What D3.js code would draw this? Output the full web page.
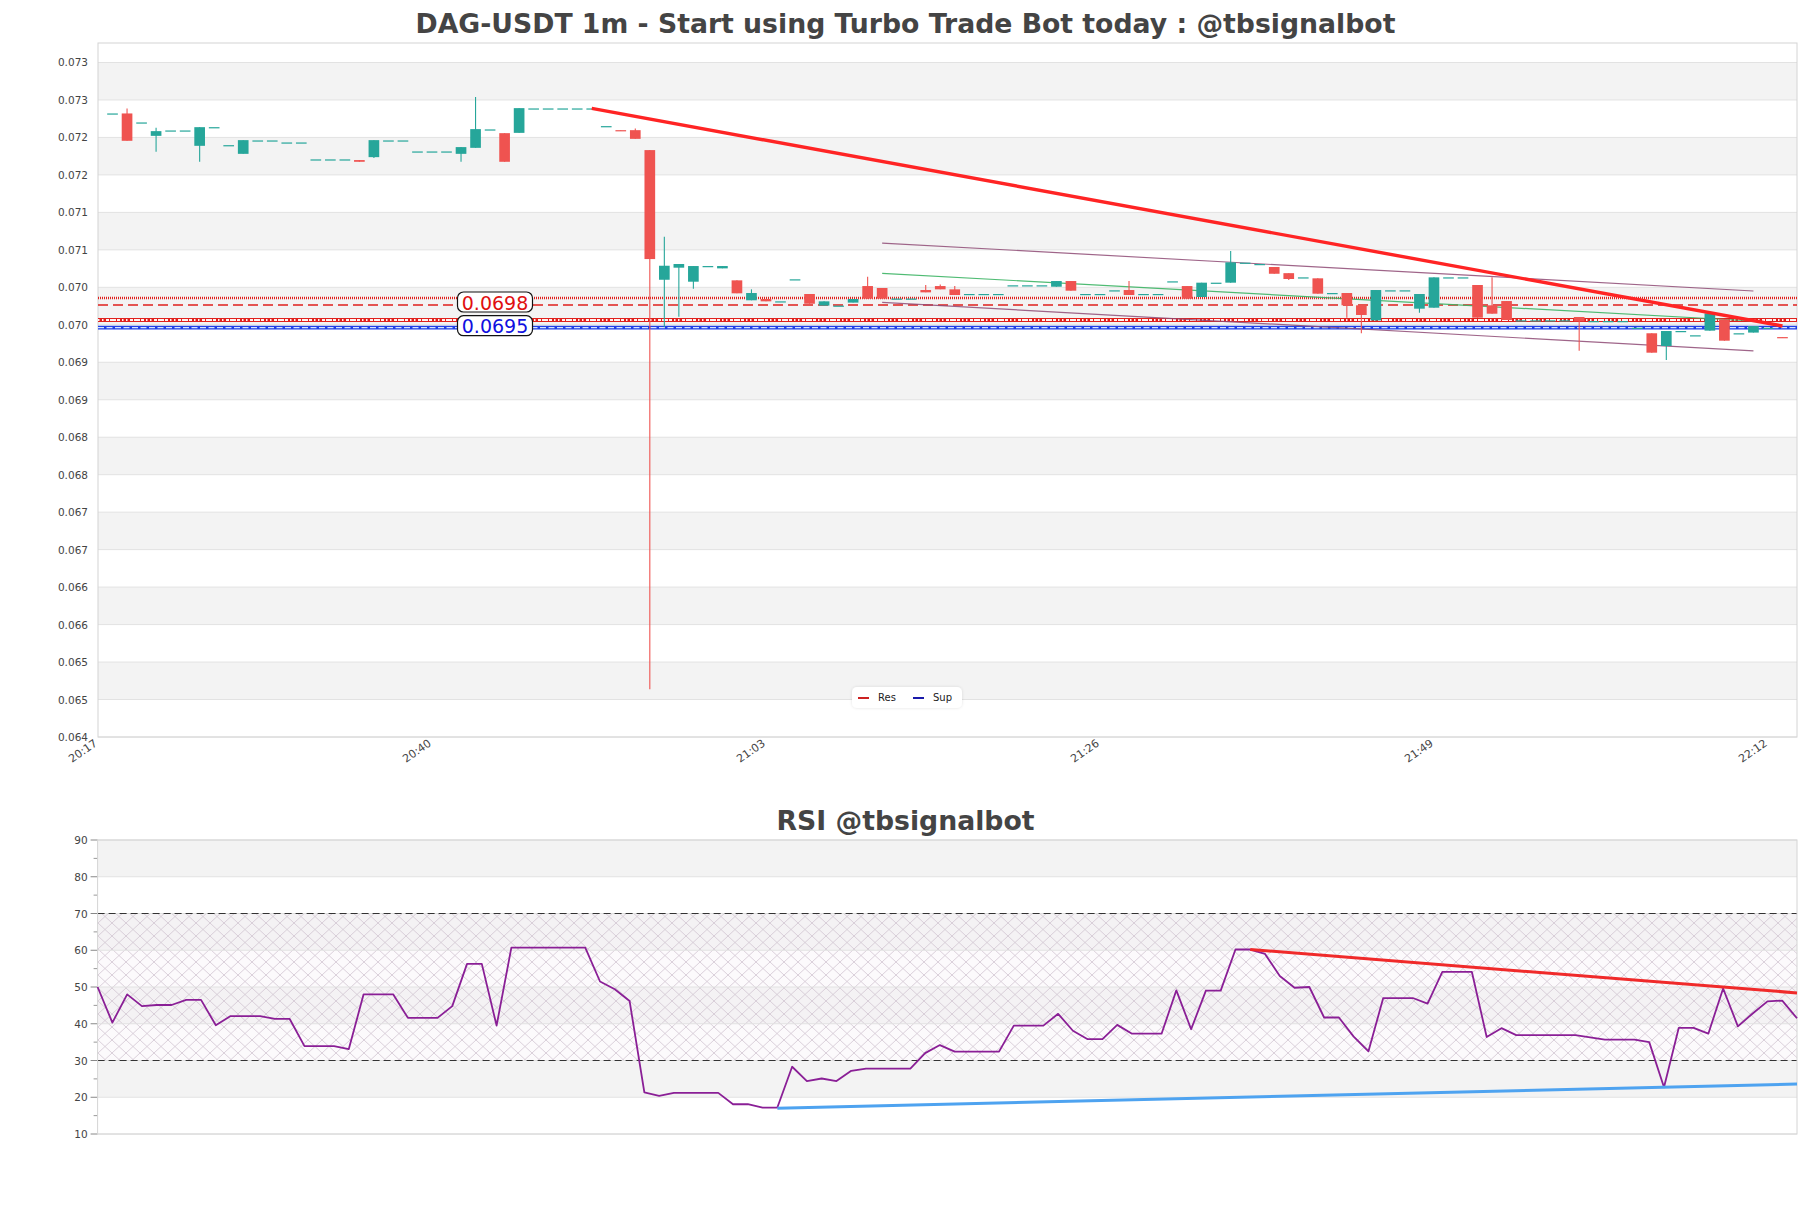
<!DOCTYPE html>
<html><head><meta charset="utf-8">
<script src="https://cdn.jsdelivr.net/npm/d3@7"></script>
<style>body{margin:0;background:#fff;} svg{display:block;font-family:"DejaVu Sans",sans-serif;}</style>
</head><body><svg id="c" width="1811" height="1208"></svg>
<script>
// ---------- DATA ----------
const titleMain = "DAG-USDT 1m - Start using Turbo Trade Bot today : @tbsignalbot";
const titleRsi = "RSI @tbsignalbot";
const xTickIdx = [0, 23, 46, 69, 92, 115];
const xTickLabels = ["20:17", "20:40", "21:03", "21:26", "21:49", "22:12"];
const yTicks = [0.064,0.0645,0.065,0.0655,0.066,0.0665,0.067,0.0675,0.068,0.0685,0.069,0.0695,0.070,0.0705,0.071,0.0715,0.072,0.0725,0.073];
const yTickLabels = ["0.064","0.065","0.065","0.066","0.066","0.067","0.067","0.068","0.068","0.069","0.069","0.070","0.070","0.071","0.071","0.072","0.072","0.073","0.073"];
// candles: minute index 1..116 (20:18 .. 22:13)
const candleOpen = [0.07232,0.07232,0.0722,0.072021,0.072093,0.072093,0.071888,0.072137,0.071897,0.071781,
0.07196,0.07196,0.071933,0.071933,0.071707,0.071707,0.071707,0.071698,0.071737,0.07196,
0.07196,0.071813,0.071813,0.071813,0.071781,0.071861,0.072107,0.072057,0.072061,0.072387,
0.072387,0.072387,0.072387,0.072387,0.072151,0.072097,0.072097,0.071831,0.070101,0.070262,
0.070075,0.070284,0.070253,0.070093,0.069827,0.069844,0.069813,0.070107,0.069911,0.069756,
0.069756,0.069796,0.070017,0.069991,0.06985,0.06985,0.069964,0.070017,0.069973,0.069911,
0.069911,0.069911,0.070027,0.070027,0.070027,0.070008,0.070084,0.069911,0.069911,0.06996,
0.069964,0.069911,0.069911,0.07008,0.070017,0.069871,0.070062,0.070062,0.070329,0.070311,
0.070271,0.070189,0.070133,0.07012,0.069924,0.069924,0.06976,0.069559,0.06996,0.06996,
0.069715,0.069728,0.070133,0.070133,0.070031,0.06976,0.069817,0.06956,0.06956,0.06956,
0.06956,0.069604,0.06955,0.06955,0.06955,0.06946,0.069387,0.069217,0.069417,0.06936,
0.069422,0.069573,0.069387,0.069396,0.06946,0.069336];
const candleHigh = [0.07232,0.072387,0.0722,0.072128,0.072093,0.072093,0.072137,0.072137,0.071897,0.071964,
0.07196,0.07196,0.071933,0.071933,0.071707,0.071707,0.071707,0.071698,0.071964,0.07196,
0.07196,0.071813,0.071813,0.071813,0.071871,0.072541,0.072107,0.072057,0.072391,0.072387,
0.072387,0.072387,0.072387,0.072387,0.072151,0.072097,0.07212,0.071831,0.070675,0.070311,
0.070284,0.070284,0.070284,0.070093,0.069973,0.069844,0.069813,0.070107,0.069911,0.069813,
0.069756,0.069844,0.070141,0.069991,0.06985,0.06985,0.070031,0.070039,0.070017,0.069911,
0.069911,0.069911,0.070027,0.070027,0.070027,0.070084,0.070084,0.069911,0.069911,0.06996,
0.070084,0.069911,0.069911,0.07008,0.070017,0.070062,0.070062,0.070484,0.070329,0.070311,
0.070271,0.070189,0.070133,0.07012,0.069924,0.069924,0.06976,0.069964,0.06996,0.06996,
0.069911,0.070133,0.070133,0.070133,0.070031,0.070133,0.069817,0.06956,0.06956,0.06956,
0.06956,0.069604,0.06955,0.06955,0.06955,0.06946,0.069387,0.069417,0.069417,0.06936,
0.069653,0.069573,0.069387,0.069484,0.06946,0.069336];
const candleLow = [0.07232,0.071955,0.0722,0.071808,0.072093,0.072093,0.071675,0.072137,0.071897,0.071781,
0.07196,0.07196,0.071933,0.071933,0.071707,0.071707,0.071707,0.071675,0.071724,0.07196,
0.07196,0.071813,0.071813,0.071813,0.071675,0.071861,0.072107,0.071675,0.072061,0.072387,
0.072387,0.072387,0.072387,0.072387,0.072151,0.07209,0.071981,0.064636,0.069467,0.069608,
0.069982,0.070284,0.070253,0.06992,0.069827,0.069813,0.069813,0.070107,0.069781,0.069756,
0.069756,0.069796,0.069849,0.069849,0.06985,0.06985,0.069933,0.069973,0.069897,0.069911,
0.069911,0.069911,0.070027,0.070027,0.070027,0.070008,0.069955,0.069911,0.069911,0.06996,
0.069897,0.069911,0.069911,0.07008,0.069848,0.069871,0.070062,0.070062,0.070329,0.070311,
0.070181,0.070098,0.070133,0.069915,0.069924,0.069595,0.069387,0.069559,0.06996,0.06996,
0.069661,0.069728,0.070133,0.070133,0.069595,0.069648,0.069564,0.06956,0.06956,0.06956,
0.06956,0.069155,0.06955,0.06955,0.06955,0.06946,0.069128,0.069031,0.069417,0.06936,
0.069422,0.069288,0.069387,0.069396,0.06946,0.06933];
const candleClose = [0.07232,0.071955,0.0722,0.072084,0.072093,0.072093,0.072137,0.072137,0.071897,0.071964,
0.07196,0.07196,0.071933,0.071933,0.071707,0.071707,0.071707,0.071675,0.071964,0.07196,
0.07196,0.071813,0.071813,0.071813,0.071871,0.072111,0.072107,0.071675,0.072391,0.072387,
0.072387,0.072387,0.072387,0.072387,0.072151,0.07209,0.071981,0.070377,0.070288,0.070311,
0.070284,0.070284,0.070284,0.06992,0.069924,0.069813,0.069813,0.070107,0.069781,0.069813,
0.069756,0.069844,0.069849,0.069849,0.06985,0.06985,0.069933,0.069973,0.069897,0.069911,
0.069911,0.069911,0.070027,0.070027,0.070027,0.070084,0.069955,0.069911,0.069911,0.06996,
0.069897,0.069911,0.069911,0.07008,0.069848,0.070062,0.070062,0.070333,0.070329,0.070311,
0.070181,0.070111,0.070133,0.069915,0.069924,0.06976,0.069631,0.069964,0.06996,0.06996,
0.069911,0.070133,0.070133,0.070133,0.069595,0.069648,0.069564,0.06956,0.06956,0.06956,
0.06956,0.069546,0.06955,0.06955,0.06955,0.06946,0.069128,0.069417,0.069417,0.06936,
0.069653,0.069288,0.069387,0.069484,0.06946,0.06933];
// support / resistance levels
const resDotted = 0.069857;
const resDashed = 0.069764;
const resPattern = 0.069564;
const supLevel = 0.069461;
const resLabel = "0.0698";
const supLabel = "0.0695";
// trend lines [index, value]
const mainTrend = [[34, 0.072387], [116, 0.069484]];
const channelUpper = [[54, 0.070591], [114, 0.069951]];
const channelMid = [[54, 0.070187], [114, 0.069551]];
const channelLower = [[54, 0.0698], [114, 0.069151]];
const legendNames = ["Res", "Sup"];
// RSI
const rsiValues = [50,40.3,48.0,44.8,45.1,45.1,46.5,46.5,39.6,42.1,
42.1,42.1,41.3,41.3,33.9,33.9,33.9,33.1,48.0,48.0,
48.0,41.6,41.6,41.6,44.8,56.3,56.3,39.5,60.7,60.7,
60.7,60.7,60.7,60.7,51.5,49.4,46.2,21.3,20.4,21.2,
21.2,21.2,21.2,18.1,18.1,17.2,17.2,28.3,24.4,25.1,
24.4,27.2,27.8,27.8,27.8,27.8,32.0,34.2,32.4,32.4,
32.4,32.4,39.5,39.5,39.5,42.7,38.1,35.8,35.8,39.7,
37.3,37.3,37.3,49.1,38.5,49.0,49.0,60.2,60.2,59.0,
53.0,49.8,50.0,41.7,41.7,36.5,32.5,47.0,47.0,47.0,
45.5,54.1,54.1,54.1,36.4,38.8,36.9,36.9,36.9,36.9,
36.9,36.3,35.7,35.7,35.7,35.0,22.7,38.9,38.9,37.3,
49.6,39.3,42.8,46.1,46.3,41.5];
const rsiTicks = [10,20,30,40,50,60,70,80,90];
const rsiMinorTicks = [15,25,35,45,55,65,75,85];
const rsiLevels = [70, 30];
const rsiResTrend = [[78, 60.2], [115, 48.4]];
const rsiSupTrend = [[46, 17.0], [115, 23.6]];

// ---------- DRAW ----------
const svg = d3.select("#c");
const UP = "#26a69a", DOWN = "#ef5350", BAND = "#f3f3f3", GRID = "#e2e2e2", BORDER = "#d4d4d4";
const M = {left: 98, right: 1797, top: 43, bottom: 737};
const x = d3.scaleLinear().domain([0, 117]).range([M.left, M.right]);
const y = d3.scaleLinear().domain([0.064, 0.07326]).range([M.bottom, M.top]);

const defs = svg.append("defs");
defs.append("clipPath").attr("id", "clipMain").append("rect")
  .attr("x", M.left).attr("y", M.top).attr("width", M.right - M.left).attr("height", M.bottom - M.top);
const pat = defs.append("pattern").attr("id", "hatch").attr("patternUnits", "userSpaceOnUse")
  .attr("width", 14).attr("height", 13);
pat.append("path").attr("d", "M0,0L14,13M14,0L0,13").attr("stroke", "#cdbfcd").attr("stroke-width", 0.8).attr("fill", "none");
const sh = defs.append("filter").attr("id", "shadow").attr("x", "-20%").attr("y", "-40%").attr("width", "140%").attr("height", "180%");
sh.append("feDropShadow").attr("dx", 0).attr("dy", 0).attr("stdDeviation", 1.5).attr("flood-color", "#000").attr("flood-opacity", 0.12);

svg.append("text").attr("x", 905.5).attr("y", 23).attr("text-anchor", "middle").attr("dominant-baseline", "central")
  .attr("font-size", 26.7).attr("font-weight", "bold").attr("fill", "#444").text(titleMain);

const gMain = svg.append("g");
// bands
for (let k = 1; k < yTicks.length - 1; k += 2) {
  gMain.append("rect").attr("x", M.left).attr("width", M.right - M.left)
    .attr("y", y(yTicks[k + 1])).attr("height", y(yTicks[k]) - y(yTicks[k + 1])).attr("fill", BAND);
}
gMain.selectAll("line.grid").data(yTicks).join("line").attr("class", "grid")
  .attr("x1", M.left).attr("x2", M.right).attr("y1", d => y(d)).attr("y2", d => y(d))
  .attr("stroke", GRID).attr("stroke-width", 1);
gMain.selectAll("text.yl").data(yTicks).join("text").attr("class", "yl")
  .attr("x", M.left - 10).attr("y", d => y(d)).attr("text-anchor", "end").attr("dominant-baseline", "central")
  .attr("font-size", 10.5).attr("fill", "#444").text((d, i) => yTickLabels[i]);
gMain.selectAll("text.xl").data(xTickIdx).join("text").attr("class", "xl")
  .attr("transform", d => `translate(${x(d) - 2},${M.bottom + 5}) rotate(-35)`)
  .attr("text-anchor", "end").attr("dominant-baseline", "central")
  .attr("font-size", 11).attr("fill", "#444").text((d, i) => xTickLabels[i]);
gMain.append("rect").attr("x", M.left).attr("y", M.top).attr("width", M.right - M.left).attr("height", M.bottom - M.top)
  .attr("fill", "none").attr("stroke", BORDER);

const gc = svg.append("g").attr("clip-path", "url(#clipMain)");
// horizontal levels
const hl = (v, attrs) => { const l = gc.append("line").attr("x1", M.left).attr("x2", M.right).attr("y1", y(v)).attr("y2", y(v)).attr("fill", "none"); for (const k in attrs) l.attr(k, attrs[k]); return l; };
hl(resDotted, {stroke: "#e0201c", "stroke-width": 2.6, "stroke-dasharray": "1,1"});
hl(resDashed, {stroke: "#e0201c", "stroke-width": 1.4, "stroke-dasharray": "10,5"});
hl(resPattern, {stroke: "#e0201c", "stroke-width": 4});
hl(resPattern, {stroke: "#fff3f0", "stroke-width": 2, "stroke-dasharray": "1.5,2.5,1.5,2.5,3,1,6,1,3,2"});
hl(supLevel, {stroke: "#1f3fe6", "stroke-width": 3.8});
hl(supLevel, {stroke: "#d6e4ff", "stroke-width": 1.2, "stroke-dasharray": "6,2.5"});

// channel + trend
const lineGen = d3.line().x(d => x(d[0])).y(d => y(d[1]));
gc.append("path").attr("d", lineGen(channelUpper)).attr("stroke", "#8e4a74").attr("stroke-width", 1.2).attr("fill", "none").attr("opacity", 0.85);
gc.append("path").attr("d", lineGen(channelLower)).attr("stroke", "#8e4a74").attr("stroke-width", 1.2).attr("fill", "none").attr("opacity", 0.85);
gc.append("path").attr("d", lineGen(channelMid)).attr("stroke", "#3cb464").attr("stroke-width", 1.2).attr("fill", "none").attr("opacity", 0.9);

// candles
const idx = d3.range(candleOpen.length).map(i => i + 1);
const bw = (x(1) - x(0)) * 0.735;
const col = i => candleClose[i - 1] >= candleOpen[i - 1] ? UP : DOWN;
gc.selectAll("line.wick").data(idx).join("line").attr("class", "wick")
  .attr("x1", d => x(d)).attr("x2", d => x(d))
  .attr("y1", d => y(candleHigh[d - 1])).attr("y2", d => y(candleLow[d - 1]))
  .attr("stroke", col).attr("stroke-width", 1.1);
gc.selectAll("rect.body").data(idx).join("rect").attr("class", "body")
  .attr("x", d => x(d) - bw / 2).attr("width", bw)
  .attr("y", d => y(Math.max(candleOpen[d - 1], candleClose[d - 1])))
  .attr("height", d => Math.max(1.2, Math.abs(y(candleOpen[d - 1]) - y(candleClose[d - 1]))))
  .attr("fill", col);

gc.append("path").attr("d", lineGen(mainTrend)).attr("stroke", "#ff2424").attr("stroke-width", 3.4).attr("fill", "none");

// labels
function boxLabel(v, dy, txt, color) {
  const g = svg.append("g");
  const cy = y(v) + dy;
  g.append("rect").attr("x", 457.5).attr("y", cy - 10).attr("width", 75).attr("height", 20).attr("rx", 6)
    .attr("fill", "#fff").attr("stroke", "#111").attr("stroke-width", 1.2);
  g.append("text").attr("x", 495).attr("y", cy + 0.5).attr("text-anchor", "middle").attr("dominant-baseline", "central")
    .attr("font-size", 19).attr("fill", color).text(txt);
}
boxLabel(resDashed, -3, resLabel, "#e01010");
boxLabel(supLevel, -2, supLabel, "#1010e0");

// legend
const lg = svg.append("g").attr("transform", "translate(852,687)");
lg.append("rect").attr("width", 110).attr("height", 21).attr("rx", 5).attr("fill", "#fff").attr("filter", "url(#shadow)");
const lcol = ["#cc2222", "#1a1aaa"];
legendNames.forEach((n, i) => {
  const ox = 6 + i * 55;
  lg.append("line").attr("x1", ox).attr("x2", ox + 11).attr("y1", 11).attr("y2", 11).attr("stroke", lcol[i]).attr("stroke-width", 2);
  lg.append("text").attr("x", ox + 20).attr("y", 10.5).attr("dominant-baseline", "central").attr("font-size", 10).attr("fill", "#222").text(n);
});

// ---------- RSI ----------
const R = {left: 97.6, right: 1797, top: 840, bottom: 1134};
const xr = d3.scaleLinear().domain([0, rsiValues.length - 1]).range([R.left, R.right]);
const yr = d3.scaleLinear().domain([10, 90]).range([R.bottom, R.top]);
svg.append("text").attr("x", 905.5).attr("y", 820).attr("text-anchor", "middle").attr("dominant-baseline", "central")
  .attr("font-size", 26.7).attr("font-weight", "bold").attr("fill", "#444").text(titleRsi);
const gr = svg.append("g");
[[80, 90], [60, 70], [40, 50], [20, 30]].forEach(b => {
  gr.append("rect").attr("x", R.left).attr("width", R.right - R.left).attr("y", yr(b[1])).attr("height", yr(b[0]) - yr(b[1])).attr("fill", BAND);
});
gr.append("rect").attr("x", R.left).attr("width", R.right - R.left).attr("y", yr(rsiLevels[0])).attr("height", yr(rsiLevels[1]) - yr(rsiLevels[0]))
  .attr("fill", "#f7f0f7").attr("opacity", 0.35);
gr.append("rect").attr("x", R.left).attr("width", R.right - R.left).attr("y", yr(rsiLevels[0])).attr("height", yr(rsiLevels[1]) - yr(rsiLevels[0]))
  .attr("fill", "url(#hatch)").attr("opacity", 0.9);
gr.selectAll("line.g").data(rsiTicks).join("line").attr("class", "g")
  .attr("x1", R.left).attr("x2", R.right).attr("y1", d => yr(d)).attr("y2", d => yr(d)).attr("stroke", GRID);
gr.selectAll("line.mt").data(rsiTicks).join("line").attr("class", "mt")
  .attr("x1", R.left - 7).attr("x2", R.left).attr("y1", d => yr(d)).attr("y2", d => yr(d)).attr("stroke", "#888");
gr.selectAll("line.nt").data(rsiMinorTicks).join("line").attr("class", "nt")
  .attr("x1", R.left - 4).attr("x2", R.left).attr("y1", d => yr(d)).attr("y2", d => yr(d)).attr("stroke", "#999");
gr.selectAll("text.t").data(rsiTicks).join("text").attr("class", "t")
  .attr("x", R.left - 10).attr("y", d => yr(d)).attr("text-anchor", "end").attr("dominant-baseline", "central")
  .attr("font-size", 10.5).attr("fill", "#444").text(d => d);
gr.selectAll("line.lv").data(rsiLevels).join("line").attr("class", "lv")
  .attr("x1", R.left).attr("x2", R.right).attr("y1", d => yr(d)).attr("y2", d => yr(d))
  .attr("stroke", "#333").attr("stroke-width", 1.2).attr("stroke-dasharray", "7,4");
gr.append("rect").attr("x", R.left).attr("y", R.top).attr("width", R.right - R.left).attr("height", R.bottom - R.top)
  .attr("fill", "none").attr("stroke", BORDER);
const rl = d3.line().x((d, i) => xr(i)).y(d => yr(d));
gr.append("path").attr("d", rl(rsiValues)).attr("stroke", "#8a1f96").attr("stroke-width", 1.8).attr("fill", "none").attr("stroke-linejoin", "round");
const tl = d3.line().x(d => xr(d[0])).y(d => yr(d[1]));
gr.append("path").attr("d", tl(rsiSupTrend)).attr("stroke", "#4ea3f0").attr("stroke-width", 3).attr("fill", "none");
gr.append("path").attr("d", tl(rsiResTrend)).attr("stroke", "#f02a2a").attr("stroke-width", 3).attr("fill", "none");
</script></body></html>
